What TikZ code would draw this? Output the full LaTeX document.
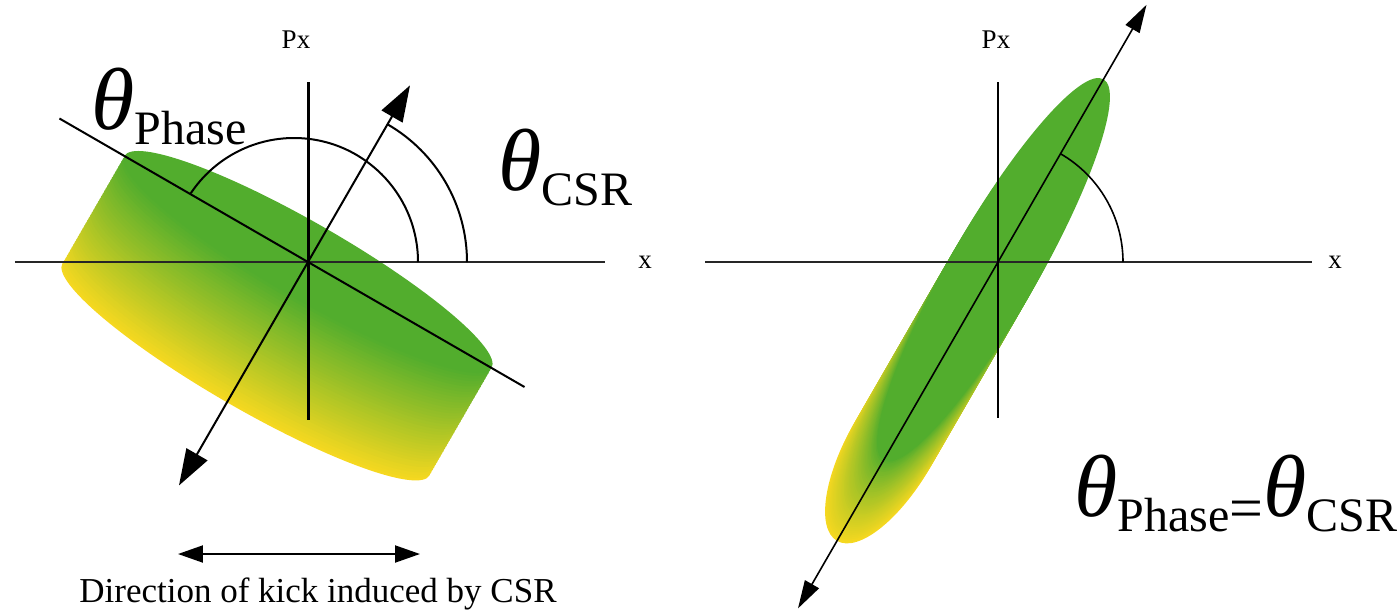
\documentclass[tikz,border=0pt]{standalone}
\usepackage{fontspec}
\setmainfont{Liberation Serif}
\usetikzlibrary{arrows.meta}
\definecolor{beamgreen}{RGB}{82,173,45}
\definecolor{beamyellow}{RGB}{245,216,32}
\newcommand{\thlabel}[1]{{\fontsize{44}{44}\selectfont\itshape θ}\raisebox{-7.5pt}{\fontsize{24}{24}\selectfont #1}}
\newcommand{\lblsize}{\fontsize{13.5}{16}\selectfont}

\begin{document}
\begin{tikzpicture}[x=0.5pt,y=0.5pt,
  axis/.style={black!85, line width=1pt},
  ray/.style={black, line width=1pt},
  thinray/.style={black, line width=0.8pt},
  bigtips/.style={{Triangle[length=18pt,width=12pt]}-{Triangle[length=18pt,width=12pt]}},
  midtips/.style={{Triangle[length=14pt,width=8pt]}-{Triangle[length=14pt,width=8pt]}},
  kicktips/.style={{Triangle[length=12.5pt,width=8.5pt]}-{Triangle[length=12.5pt,width=8.5pt]}}]
\useasboundingbox (-308,-350) rectangle (1090,262);

% left bunch: tilted ellipse swept along the kick direction
\begin{scope}[rotate=-30]
\foreach \i in {40,39,...,0}{
  \pgfmathsetmacro{\t}{\i/40}
  \pgfmathtruncatemacro{\p}{2.5*\i}
  \fill[beamyellow!\p!beamgreen] (0,{-124*\t}) ellipse [x radius=212, y radius=38];
}
\end{scope}

% left axes and lines
\coordinate (o1) at (0,0);
\coordinate (ax1w) at (-293,0);
\coordinate (ax1e) at (297,0);
\coordinate (ax1n) at (0,180);
\coordinate (ax1s) at (0,-158);
\coordinate (ph1) at (150:287);
\coordinate (ph2) at (-30:250);
\coordinate (cs1) at (240:258);
\coordinate (cs2) at (60:204);
\draw[axis] (ax1w) -- (ax1e);
\draw[black, line width=1.5pt] (ax1n) -- (ax1s);
\draw[ray] (ph1) -- (ph2);
\draw[ray, bigtips] (cs1) -- (cs2);
\draw[ray] (110,0) arc[start angle=0, end angle=146.3, radius=124];
\draw[ray] (159,0) arc[start angle=0, end angle=60, radius=159];

\node[font=\lblsize] (px1) at (-12,222) {Px};
\node[font=\lblsize] (x1) at (337,0) {x};
\node[anchor=base west, inner sep=0] (thph) at (-217,133) {\thlabel{Phase}};
\node[anchor=base west, inner sep=0] (thcsr) at (190,72) {\thlabel{CSR}};

% kick direction
\coordinate (kl) at (-130,-292);
\coordinate (kr) at (112,-292);
\draw[ray, kicktips] (kl) -- (kr);
\node[font=\fontsize{17.5}{20}\selectfont, anchor=base] (cap) at (10,-340) {Direction of kick induced by CSR};

% right bunch: ellipse lined up with the kick
\begin{scope}[shift={(690,0)}, rotate=60]
\foreach \i in {40,39,...,0}{
  \pgfmathsetmacro{\t}{\i/40}
  \pgfmathtruncatemacro{\p}{100*(\t^0.8)}
  \fill[beamyellow!\p!beamgreen] ({-9-203*\t},0) ellipse [x radius={220-110*\t}, y radius=44];
}
\end{scope}

% right axes and lines
\begin{scope}[shift={(690,0)}]
\coordinate (o2) at (0,0);
\coordinate (ax2w) at (-293,0);
\coordinate (ax2e) at (314,0);
\coordinate (ax2n) at (0,180);
\coordinate (ax2s) at (0,-156);
\coordinate (cr1) at (240:400);
\coordinate (cr2) at (60:297);
\draw[thinray, black!85] (ax2w) -- (ax2e);
\draw[thinray] (ax2n) -- (ax2s);
\draw[thinray, midtips] (cr1) -- (cr2);
\draw[thinray] (125,0) arc[start angle=0, end angle=60, radius=125];
\end{scope}

\node[font=\lblsize] (px2) at (688,222) {Px};
\node[font=\lblsize] (x2) at (1027,0) {x};
\node[anchor=base west, inner sep=0] (eq) at (766,-254) {\thlabel{Phase}\raisebox{-6pt}{\fontsize{30}{30}\selectfont=}\thlabel{CSR}};
\end{tikzpicture}
\end{document}
